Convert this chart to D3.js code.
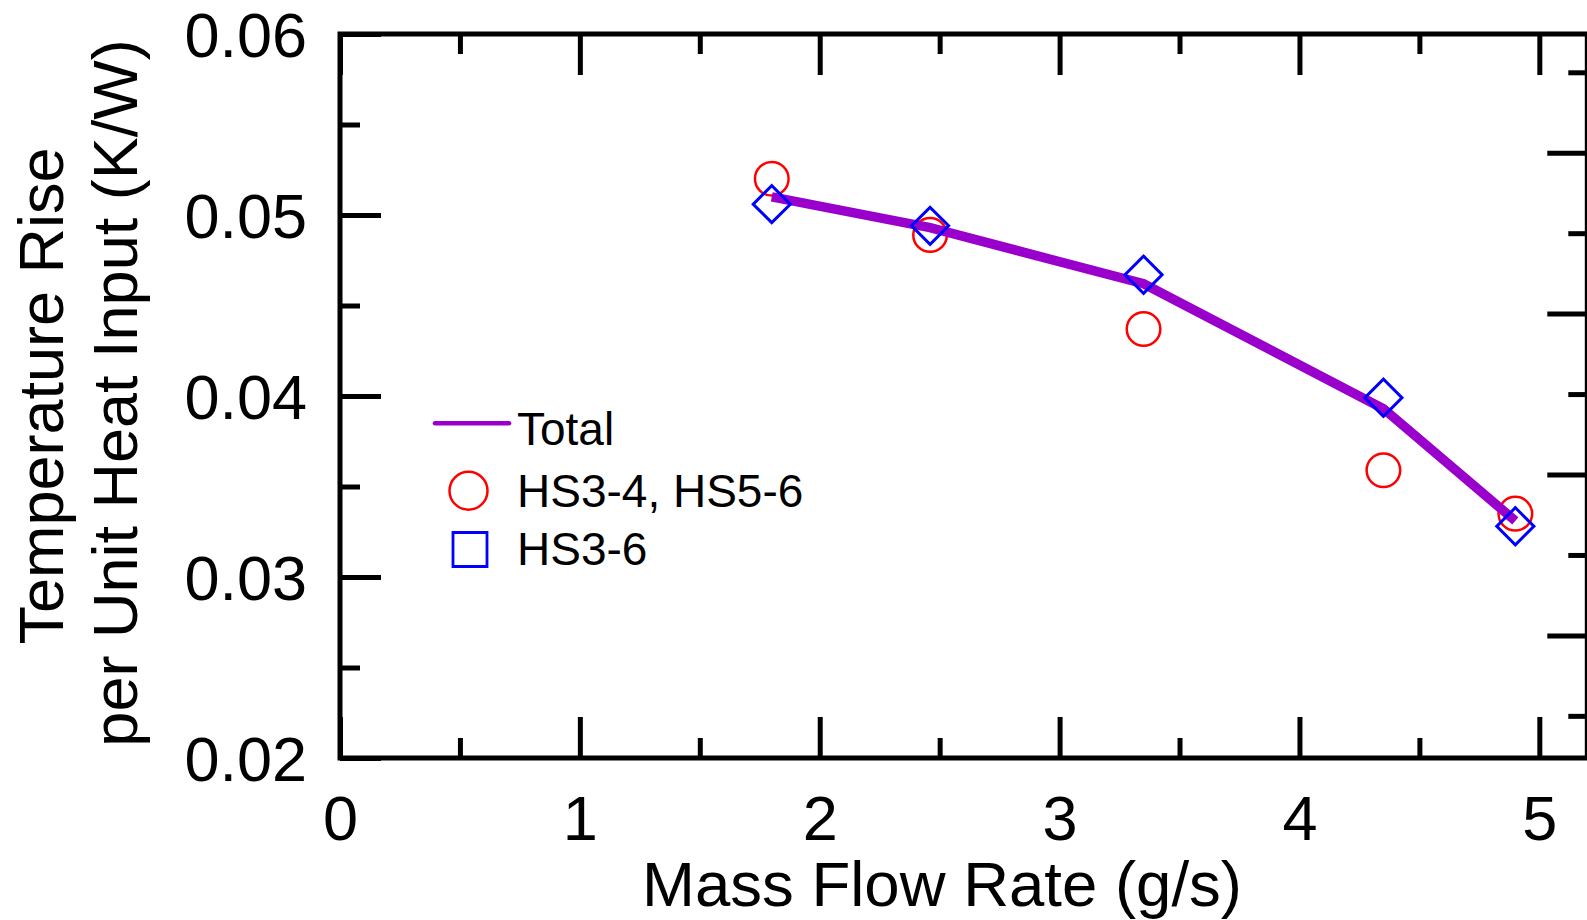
<!DOCTYPE html>
<html>
<head>
<meta charset="utf-8">
<script src="https://cdn.jsdelivr.net/npm/d3@7"></script>
<style>
  html, body { margin: 0; padding: 0; background: #fff; }
  svg { display: block; font-family: "Liberation Sans", Arial, Helvetica, sans-serif; }
</style>
</head>
<body>
<svg id="chart" width="1587" height="920"></svg>
<script>
// ---- data ----
const massFlow = [1.80, 2.46, 3.35, 4.35, 4.90];
const totalValues = [0.0510, 0.0493, 0.0462, 0.0393, 0.0331];
const hs34Values = [0.0520, 0.0489, 0.0437, 0.0359, 0.0335];
const hs36Values = [0.0506, 0.0494, 0.0467, 0.0399, 0.0328];
const xMajorTicks = [0, 1, 2, 3, 4, 5];
const xMinorTicks = [0.5, 1.5, 2.5, 3.5, 4.5];
const yMajorTicks = [0.02, 0.03, 0.04, 0.05, 0.06];
const yMinorTicks = [0.025, 0.035, 0.045, 0.055];
const y2MajorTicks = [1, 2, 3, 4];
const y2MinorTicks = [0.5, 1.5, 2.5, 3.5, 4.5];
const legendLabels = ["Total", "HS3-4, HS5-6", "HS3-6"];
const xTitle = "Mass Flow Rate (g/s)";
const yTitleLines = ["Temperature Rise", "per Unit Heat Input (K/W)"];

// ---- layout ----
const pLeft = 340, pRight = 1587.3, pTop = 34, pBottom = 758;
const svg = d3.select("#chart");

const x = d3.scaleLinear().domain([0, 5.2]).range([pLeft, pRight]);
const y = d3.scaleLinear().domain([0.02, 0.06]).range([pBottom, pTop]);
const y2 = d3.scaleLinear().domain([0.238, 4.738]).range([pBottom, pTop]);

const purple = "#9900cc", red = "#ff0000", blue = "#0000ff";
const fs = 63;

function styleAxis(g) {
  g.select(".domain").remove();
  g.selectAll(".tick line").attr("stroke", "#000").attr("stroke-width", 5);
}

// bottom axis
const gB = svg.append("g").attr("transform", `translate(0,${pBottom})`)
  .call(d3.axisBottom(x).tickValues(xMajorTicks).tickSize(-41).tickFormat(d3.format("d")));
styleAxis(gB);
gB.selectAll(".tick text").attr("y", 82).attr("dy", null)
  .attr("font-size", fs).attr("fill", "#000").attr("font-family", "Liberation Sans, Arial, sans-serif");
const gBm = svg.append("g").attr("transform", `translate(0,${pBottom})`)
  .call(d3.axisBottom(x).tickValues(xMinorTicks).tickSize(-20).tickFormat(""));
styleAxis(gBm);

// top axis
const gT = svg.append("g").attr("transform", `translate(0,${pTop})`)
  .call(d3.axisTop(x).tickValues(xMajorTicks).tickSize(-41).tickFormat(""));
styleAxis(gT);
const gTm = svg.append("g").attr("transform", `translate(0,${pTop})`)
  .call(d3.axisTop(x).tickValues(xMinorTicks).tickSize(-20).tickFormat(""));
styleAxis(gTm);

// left axis
const gL = svg.append("g").attr("transform", `translate(${pLeft},0)`)
  .call(d3.axisLeft(y).tickValues(yMajorTicks).tickSize(-41).tickFormat(d3.format(".2f")));
styleAxis(gL);
gL.selectAll(".tick text").attr("x", -33).attr("dy", "0.36em")
  .attr("font-size", fs).attr("fill", "#000").attr("font-family", "Liberation Sans, Arial, sans-serif");
const gLm = svg.append("g").attr("transform", `translate(${pLeft},0)`)
  .call(d3.axisLeft(y).tickValues(yMinorTicks).tickSize(-20).tickFormat(""));
styleAxis(gLm);

// right axis (secondary scale, labels off-canvas)
const gR = svg.append("g").attr("transform", `translate(${pRight},0)`)
  .call(d3.axisRight(y2).tickValues(y2MajorTicks).tickSize(-40).tickFormat(""));
styleAxis(gR);
const gRm = svg.append("g").attr("transform", `translate(${pRight},0)`)
  .call(d3.axisRight(y2).tickValues(y2MinorTicks).tickSize(-19).tickFormat(""));
styleAxis(gRm);

// frame
svg.append("rect").attr("x", pLeft).attr("y", pTop)
  .attr("width", pRight - pLeft).attr("height", pBottom - pTop)
  .attr("fill", "none").attr("stroke", "#000").attr("stroke-width", 5);

// titles
svg.append("text").attr("x", 942).attr("y", 906).attr("text-anchor", "middle")
  .attr("font-size", 63.5).attr("fill", "#000").text(xTitle);
svg.append("text").attr("transform", "translate(63,396) rotate(-90)")
  .attr("text-anchor", "middle").attr("font-size", fs).attr("fill", "#000").text(yTitleLines[0]);
svg.append("text").attr("transform", "translate(137,393) rotate(-90)")
  .attr("text-anchor", "middle").attr("font-size", fs).attr("fill", "#000").text(yTitleLines[1]);

// data: circles
svg.append("g").selectAll("circle").data(massFlow.map((m, i) => [m, hs34Values[i]]))
  .join("circle")
  .attr("cx", d => x(d[0])).attr("cy", d => y(d[1])).attr("r", 16.8)
  .attr("fill", "none").attr("stroke", red).attr("stroke-width", 2.5);

// data: total line
const line = d3.line().x(d => x(d[0])).y(d => y(d[1]));
svg.append("path").datum(massFlow.map((m, i) => [m, totalValues[i]]))
  .attr("d", line).attr("fill", "none").attr("stroke", purple)
  .attr("stroke-width", 9.5).attr("stroke-linejoin", "miter").attr("stroke-linecap", "butt");

// data: diamonds
const diamond = d3.symbol().type(d3.symbolSquare).size(690);
svg.append("g").selectAll("path").data(massFlow.map((m, i) => [m, hs36Values[i]]))
  .join("path")
  .attr("d", diamond)
  .attr("transform", d => `translate(${x(d[0])},${y(d[1])}) rotate(45)`)
  .attr("fill", "none").attr("stroke", blue).attr("stroke-width", 3);

// legend
const lg = svg.append("g");
lg.append("line").attr("x1", 435).attr("x2", 509).attr("y1", 423.3).attr("y2", 423.3)
  .attr("stroke", purple).attr("stroke-width", 4.5).attr("stroke-linecap", "round");
lg.append("circle").attr("cx", 468.5).attr("cy", 490.7).attr("r", 19)
  .attr("fill", "none").attr("stroke", red).attr("stroke-width", 2.5);
lg.append("path").attr("d", d3.symbol().type(d3.symbolSquare).size(34 * 34)())
  .attr("transform", "translate(470,549.5)")
  .attr("fill", "none").attr("stroke", blue).attr("stroke-width", 2.8);
const legendBaselines = [445, 507.3, 565];
lg.selectAll("text.lab").data(legendLabels).join("text").attr("class", "lab")
  .attr("x", 517).attr("y", (d, i) => legendBaselines[i])
  .attr("font-size", 46).attr("fill", "#000").text(d => d);
</script>
</body>
</html>
